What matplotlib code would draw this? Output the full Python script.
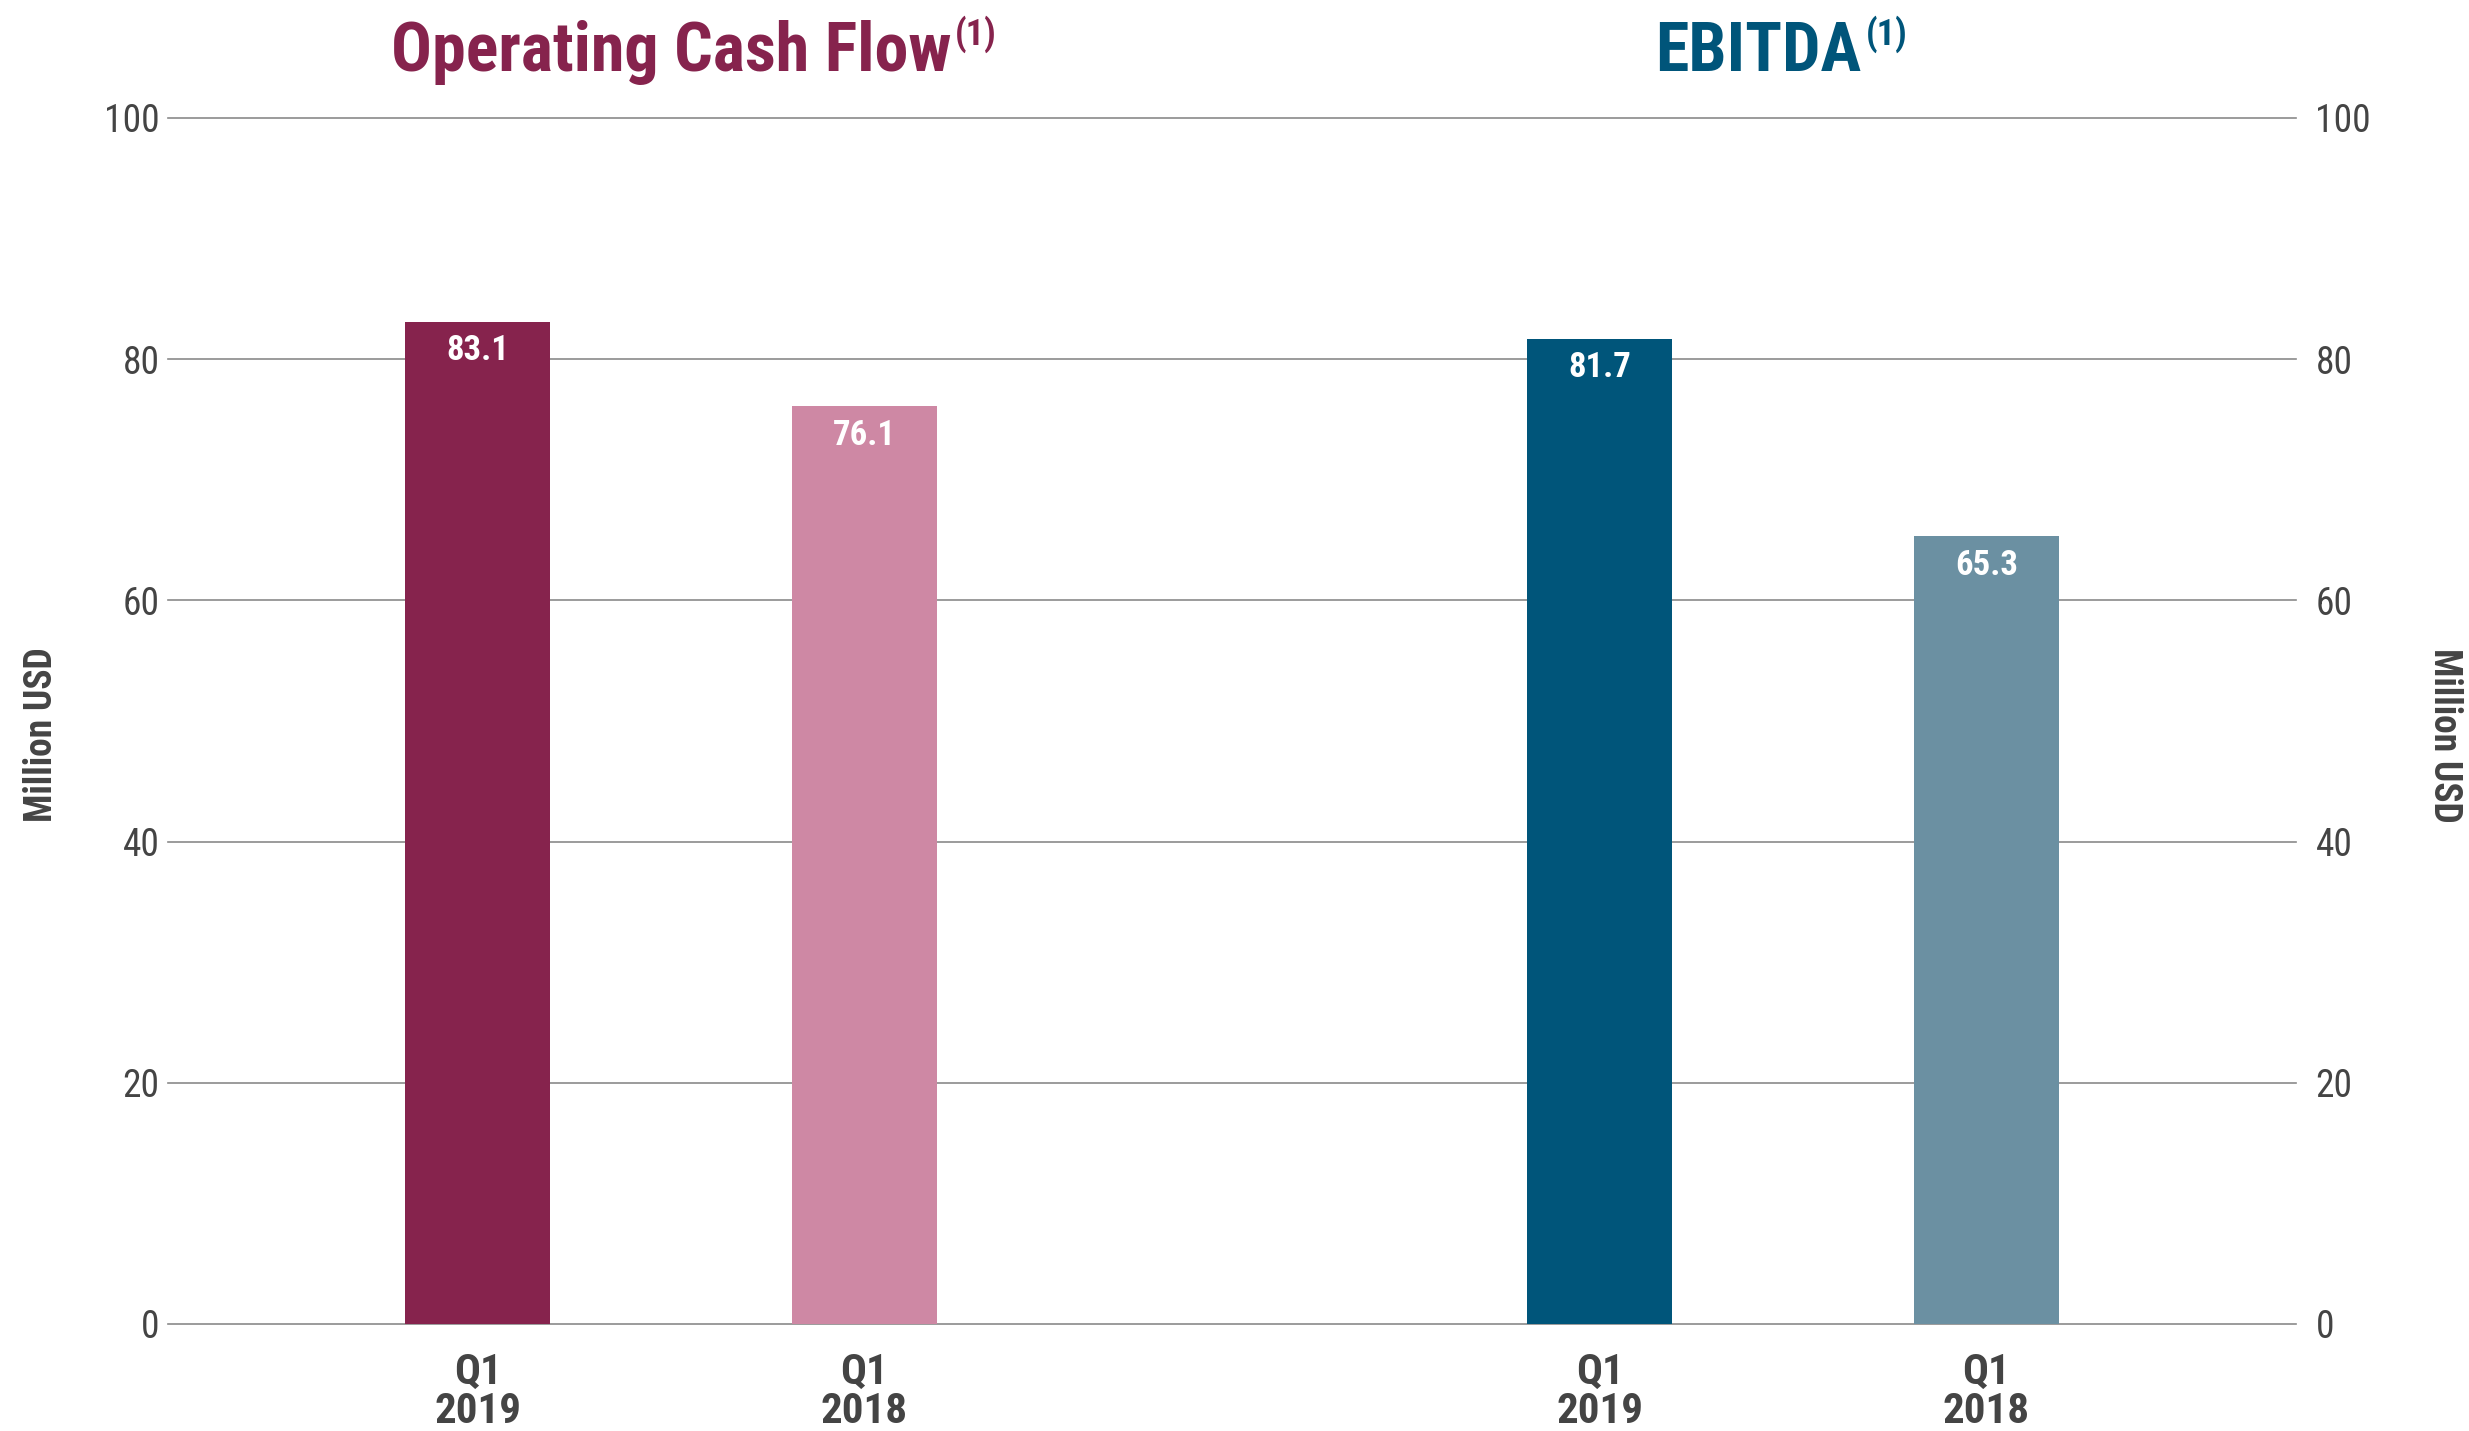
import matplotlib
matplotlib.use("Agg")
import matplotlib.pyplot as plt

plt.rcParams['font.family'] = ['Roboto Condensed', 'Liberation Sans Narrow', 'DejaVu Sans']

# data
labels = ["Q1\n2019", "Q1\n2018", "Q1\n2019", "Q1\n2018"]
values = [83.1, 76.1, 81.7, 65.3]
positions = [0, 1, 2.9, 3.9]
colors = ["#86234D", "#CE88A4", "#00557A", "#6B90A2"]
titles = ["Operating Cash Flow", "EBITDA"]
title_x = [0.5, 3.31]
title_colors = ["#86234D", "#00557A"]
yticks = [0, 20, 40, 60, 80, 100]

gray = "#444444"

fig = plt.figure(figsize=(24.69, 14.31), dpi=100)
ax = fig.add_axes([168 / 2469, 107 / 1431, 2128 / 2469, 1206 / 1431])

ax.bar(positions, values, width=0.375, color=colors, zorder=3)
for x, v in zip(positions, values):
    ax.annotate(f"{v:.1f}", xy=(x, v), xytext=(0, -9), textcoords="offset points",
                ha="center", va="top", color="white", fontsize=25, fontweight="bold", zorder=4)

ax.set_xlim(-0.8, 4.7)
ax.set_ylim(0, 100)
ax.set_yticks(yticks)
ax.grid(axis="y", color="#8a8a8a", linewidth=1.2, zorder=0)
for gl in ax.get_ygridlines():
    gl.set_clip_on(False)
for s in ax.spines.values():
    s.set_visible(False)

ax.set_xticks(positions)
ax.set_xticklabels(labels, fontsize=31, fontweight="bold", color=gray, linespacing=0.95)
ax.tick_params(axis="x", length=0, pad=20)
ax.tick_params(axis="y", length=0, pad=6, labelsize=27, labelcolor=gray)

ax2 = ax.twinx()
ax2.set_ylim(0, 100)
ax2.set_yticks(yticks)
for s in ax2.spines.values():
    s.set_visible(False)
ax2.tick_params(axis="y", length=0, pad=14, labelsize=27, labelcolor=gray)

fig.text(42 / 2469, 1 - 735 / 1431, "Million USD", rotation=90, ha="center", va="center",
         fontsize=27, fontweight="bold", color=gray)
fig.text(2445 / 2469, 1 - 735 / 1431, "Million USD", rotation=270, ha="center", va="center",
         fontsize=27, fontweight="bold", color=gray)

for t, tx, c in zip(titles, title_x, title_colors):
    main = ax.text(tx, (1324 - 71) / 1206, t, transform=ax.get_xaxis_transform(),
                   ha="center", va="baseline", fontsize=49, fontweight="bold", color=c)
    ax.annotate("(1)", xy=(1, 1), xycoords=main, xytext=(3, 3), textcoords="offset points",
                ha="left", va="top", fontsize=26, fontweight="bold", color=c)

fig.savefig("out.png", dpi=100)
